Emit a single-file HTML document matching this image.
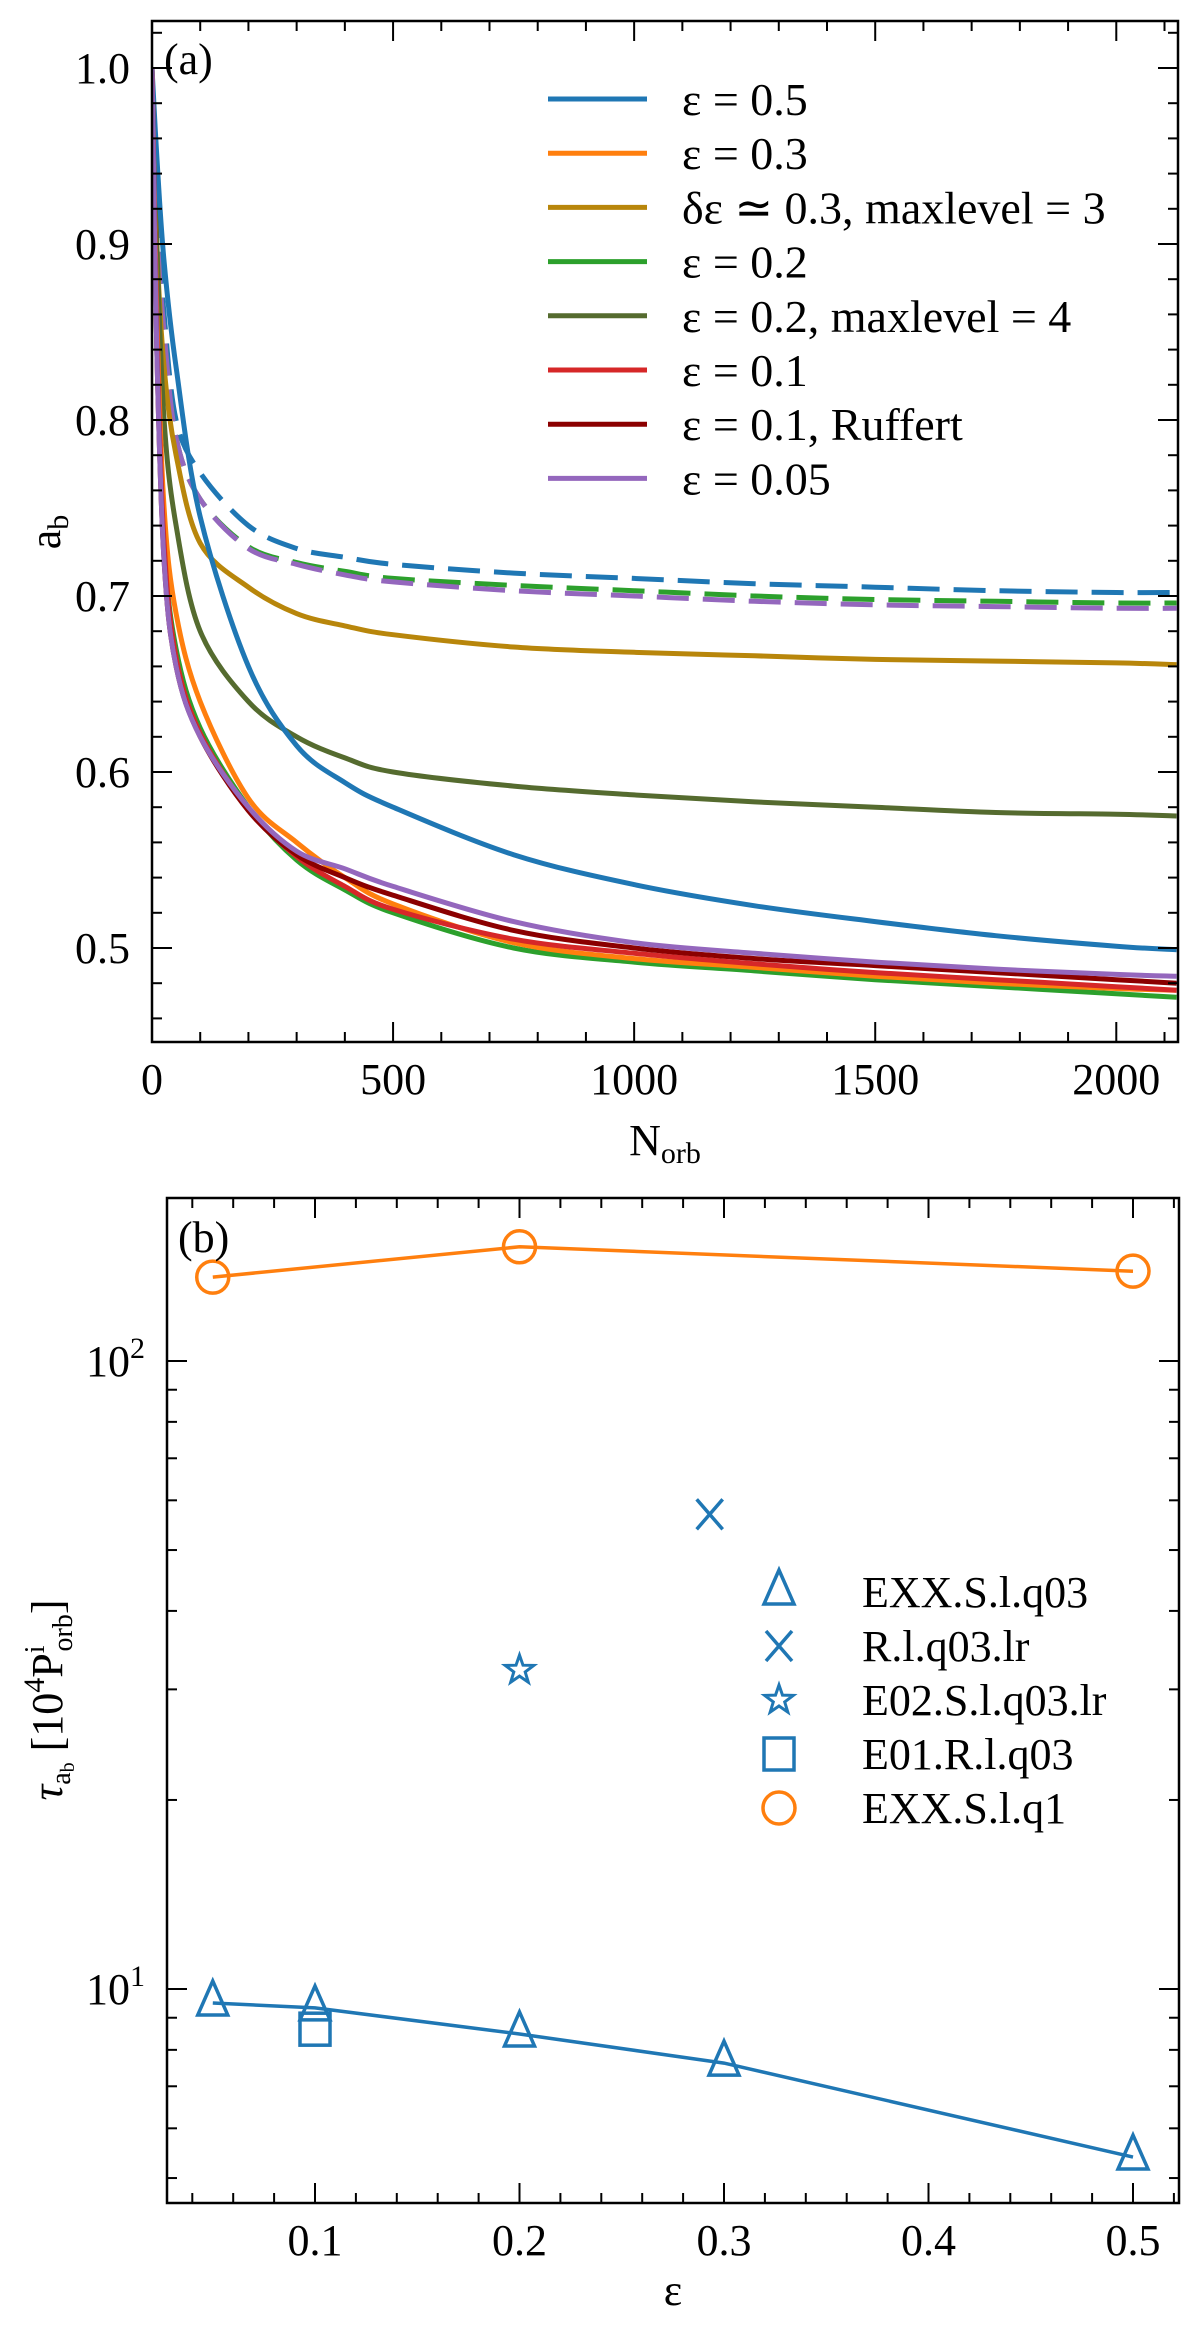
<!DOCTYPE html>
<html><head><meta charset="utf-8"><style>
html,body{margin:0;padding:0;background:#fff}
svg{display:block}
text{font-family:"Liberation Serif",serif;fill:#000}
</style></head><body>
<svg id="fig" width="1200" height="2332" viewBox="0 0 1200 2332" xmlns="http://www.w3.org/2000/svg">
<g id="pa"></g>
<g id="pb"></g>
</svg>
<script>
// ---------- Panel (a) data ----------
const aN = [0, 10, 25, 50, 100, 200, 300, 400, 500, 750, 1000, 1250, 1500, 1750, 2000, 2125];
const aEps05 = [1.0, 0.95, 0.89, 0.83, 0.745, 0.66, 0.615, 0.594, 0.58, 0.553, 0.536, 0.524, 0.515, 0.507, 0.501, 0.499];
const aEps03 = [1.0, 0.86, 0.75, 0.69, 0.64, 0.585, 0.56, 0.54, 0.525, 0.503, 0.494, 0.489, 0.484, 0.480, 0.477, 0.476];
const aDeps03 = [1.0, 0.90, 0.83, 0.78, 0.73, 0.705, 0.69, 0.683, 0.678, 0.671, 0.668, 0.666, 0.664, 0.663, 0.662, 0.661];
const aEps02 = [1.0, 0.85, 0.73, 0.67, 0.625, 0.58, 0.55, 0.533, 0.52, 0.50, 0.492, 0.487, 0.482, 0.478, 0.474, 0.472];
const aEps02L4 = [1.0, 0.90, 0.80, 0.74, 0.68, 0.64, 0.62, 0.608, 0.60, 0.592, 0.587, 0.583, 0.58, 0.577, 0.576, 0.575];
const aEps01 = [1.0, 0.85, 0.73, 0.665, 0.622, 0.579, 0.552, 0.535, 0.522, 0.505, 0.497, 0.491, 0.486, 0.482, 0.478, 0.476];
const aEps01R = [1.0, 0.84, 0.72, 0.66, 0.62, 0.578, 0.553, 0.54, 0.53, 0.51, 0.50, 0.494, 0.49, 0.486, 0.482, 0.48];
const aEps005 = [1.0, 0.84, 0.72, 0.66, 0.62, 0.58, 0.555, 0.545, 0.535, 0.515, 0.503, 0.497, 0.492, 0.488, 0.485, 0.484];
const aDash05 = [1.0, 0.92, 0.86, 0.80, 0.77, 0.74, 0.727, 0.722, 0.718, 0.713, 0.71, 0.707, 0.705, 0.703, 0.702, 0.702];
const aDash02 = [1.0, 0.91, 0.85, 0.79, 0.755, 0.728, 0.719, 0.714, 0.71, 0.706, 0.703, 0.700, 0.698, 0.697, 0.696, 0.696];
const aDash005 = [1.0, 0.91, 0.85, 0.79, 0.755, 0.727, 0.718, 0.712, 0.708, 0.703, 0.700, 0.697, 0.695, 0.694, 0.693, 0.693];
const aLegend = ["ε = 0.5","ε = 0.3","δε ≃ 0.3,  maxlevel = 3","ε = 0.2","ε = 0.2,  maxlevel = 4","ε = 0.1","ε = 0.1,  Ruffert","ε = 0.05"];
const aXTicks = [0, 500, 1000, 1500, 2000];
const aYTicks = [0.5, 0.6, 0.7, 0.8, 0.9, 1.0];

// ---------- Panel (b) data ----------
const bEpsTri = [0.05, 0.1, 0.2, 0.3, 0.5];
const bTauTri = [9.5, 9.33, 8.48, 7.62, 5.4];
const bEpsCirc = [0.05, 0.2, 0.5];
const bTauCirc = [136, 152, 139];
const bEpsX = [0.293];
const bTauX = [57];
const bEpsStar = [0.2];
const bTauStar = [32.2];
const bEpsSq = [0.1];
const bTauSq = [8.63];
const bLegend = ["EXX.S.l.q03","R.l.q03.lr","E02.S.l.q03.lr","E01.R.l.q03","EXX.S.l.q1"];
const bXTicks = [0.1, 0.2, 0.3, 0.4, 0.5];

const NS = "http://www.w3.org/2000/svg";
function mk(parent, tag, attrs, txt){
  const e = document.createElementNS(NS, tag);
  for (const k in attrs) e.setAttribute(k, attrs[k]);
  if (txt !== undefined) e.textContent = txt;
  parent.appendChild(e);
  return e;
}
function linePath(xs, ys, fx, fy){ return xs.map((x,i)=>(i?'L':'M')+fx(x).toFixed(1)+' '+fy(ys[i]).toFixed(1)).join(' '); }
function smoothPath(xs, ys, fx, fy){
  const P = xs.map((x,i)=>[fx(x),fy(ys[i])]);
  let d = 'M'+P[0][0].toFixed(1)+' '+P[0][1].toFixed(1);
  for (let i=0;i<P.length-1;i++){
    const p0=P[Math.max(0,i-1)], p1=P[i], p2=P[i+1], p3=P[Math.min(P.length-1,i+2)];
    const c1=[p1[0]+(p2[0]-p0[0])/6, p1[1]+(p2[1]-p0[1])/6];
    const c2=[p2[0]-(p3[0]-p1[0])/6, p2[1]-(p3[1]-p1[1])/6];
    d += ' C'+c1.map(v=>v.toFixed(1)).join(' ')+' '+c2.map(v=>v.toFixed(1)).join(' ')+' '+p2[0].toFixed(1)+' '+p2[1].toFixed(1);
  }
  return d;
}
// ===== Panel a =====
const pa = document.getElementById('pa');
const A = {l:152, r:1178, t:21, b:1042};
const axN = n => A.l + n * (A.r - A.l) / 2128;
const ayA = v => 68 + (1.0 - v) * 1760;
const clipA = mk(pa,'clipPath',{id:'clipA'});
mk(clipA,'rect',{x:A.l,y:A.t,width:A.r-A.l,height:A.b-A.t});
const aSeries = [
 [aDash05,'#1f77b4',true,'dashed-eps-05'],
 [aDash02,'#2ca02c',true,'dashed-eps-02'],
 [aDash005,'#9467bd',true,'dashed-eps-005'],
 [aDeps03,'#b8860b',false,'line-deps-03-maxlevel-3'],
 [aEps02L4,'#556b2f',false,'line-eps-02-maxlevel-4'],
 [aEps05,'#1f77b4',false,'line-eps-05'],
 [aEps02,'#2ca02c',false,'line-eps-02'],
 [aEps03,'#ff7f0e',false,'line-eps-03'],
 [aEps01,'#d62728',false,'line-eps-01'],
 [aEps01R,'#8b0000',false,'line-eps-01-ruffert'],
 [aEps005,'#9467bd',false,'line-eps-005']
];
aSeries.forEach(s=>{
  const p = mk(pa,'path',{d:smoothPath(aN,s[0],axN,ayA),fill:'none',stroke:s[1],'stroke-width':5,'clip-path':'url(#clipA)','stroke-linejoin':'round'});
  if (s[2]) p.setAttribute('stroke-dasharray','32 14');
  
  
});
const fa = mk(pa,'rect',{x:A.l,y:A.t,width:A.r-A.l,height:A.b-A.t,fill:'none',stroke:'#000','stroke-width':2.5});


for (let n=0;n<=2100;n+=100){
  const x=axN(n), maj=(n%500===0), L=maj?20:10;
  mk(pa,'line',{x1:x,y1:A.b,x2:x,y2:A.b-L,stroke:'#000','stroke-width':2});
  mk(pa,'line',{x1:x,y1:A.t,x2:x,y2:A.t+L,stroke:'#000','stroke-width':2});
}
aXTicks.forEach(n=>{
  const t = mk(pa,'text',{x:axN(n),y:1094,'font-size':44,'text-anchor':'middle'},String(n));
  
  
});
for (let k=0;k<=29;k++){
  const v = 0.46 + k*0.02;
  if (v>1.026) break;
  const y=ayA(v), maj=(Math.round(v*100)%10===0), L=maj?20:10;
  mk(pa,'line',{x1:A.l,y1:y,x2:A.l+L,y2:y,stroke:'#000','stroke-width':2});
  mk(pa,'line',{x1:A.r,y1:y,x2:A.r-L,y2:y,stroke:'#000','stroke-width':2});
}
aYTicks.forEach(v=>{
  const t = mk(pa,'text',{x:130,y:ayA(v)+15,'font-size':44,'text-anchor':'end'},v.toFixed(1));
  
  
});
const ta = mk(pa,'text',{x:164,y:74,'font-size':44},'(a)');


const xla = mk(pa,'text',{x:665,y:1155,'font-size':44,'text-anchor':'middle'});
xla.innerHTML = 'N<tspan font-size="30" dy="8">orb</tspan>';


const yla = mk(pa,'text',{x:0,y:0,'font-size':44,'text-anchor':'middle',transform:'translate(60,532) rotate(-90)'});
yla.innerHTML = 'a<tspan font-size="30" dy="8">b</tspan>';


const legCols = ['#1f77b4','#ff7f0e','#b8860b','#2ca02c','#556b2f','#d62728','#8b0000','#9467bd'];
aLegend.forEach((lab,i)=>{
  const y = 99 + i*54.2;
  const g = mk(pa,'g',{});
  
  
  mk(g,'line',{x1:548,y1:y,x2:647,y2:y,stroke:legCols[i],'stroke-width':5});
  mk(g,'text',{x:682,y:y+16,'font-size':46},lab);
});
// ===== Panel b =====
const pb = document.getElementById('pb');
const B = {l:167, r:1179, t:1198, b:2203};
const bx = e => 315 + (e - 0.1) * 2045;
const by = v => 1989 - Math.log10(v/10) * 628;
const blue='#1f77b4', orange='#ff7f0e';
const lt = mk(pb,'path',{d:linePath(bEpsTri,bTauTri,bx,by),fill:'none',stroke:blue,'stroke-width':3.5});


const lc = mk(pb,'path',{d:linePath(bEpsCirc,bTauCirc,bx,by),fill:'none',stroke:orange,'stroke-width':3.5});


function marker(g,type,cx,cy,col){
  const sw=3.5;
  if(type==='tri'){ mk(g,'polygon',{points:`${cx},${cy-22} ${cx-15},${cy+12} ${cx+15},${cy+12}`,fill:'none',stroke:col,'stroke-width':sw}); }
  else if(type==='x'){ mk(g,'path',{d:`M${cx-13} ${cy-15}L${cx+13} ${cy+15}M${cx-13} ${cy+15}L${cx+13} ${cy-15}`,stroke:col,'stroke-width':sw,fill:'none'}); }
  else if(type==='star'){
    let pts=[];for(let k=0;k<10;k++){const r=k%2?6:15,a=-Math.PI/2+k*Math.PI/5;pts.push((cx+r*Math.cos(a)).toFixed(1)+','+(cy+r*Math.sin(a)).toFixed(1));}
    mk(g,'polygon',{points:pts.join(' '),fill:'none',stroke:col,'stroke-width':3});
  }
  else if(type==='sq'){ mk(g,'rect',{x:cx-15,y:cy-16,width:30,height:32,fill:'none',stroke:col,'stroke-width':sw}); }
  else { mk(g,'circle',{cx:cx,cy:cy,r:16,fill:'none',stroke:col,'stroke-width':sw}); }
}
const bSets = [[bEpsTri,bTauTri,'tri',blue,'marker-triangle'],[bEpsX,bTauX,'x',blue,'marker-x'],[bEpsStar,bTauStar,'star',blue,'marker-star'],[bEpsSq,bTauSq,'sq',blue,'marker-square'],[bEpsCirc,bTauCirc,'circ',orange,'marker-circle']];
bSets.forEach(s=>{
  s[0].forEach((e,i)=>{
    const g = mk(pb,'g',{});
    
    
    marker(g,s[2],bx(e),by(s[1][i]),s[3]);
  });
});
const fb = mk(pb,'rect',{x:B.l,y:B.t,width:B.r-B.l,height:B.b-B.t,fill:'none',stroke:'#000','stroke-width':2.5});


for (let k=2;k<=26;k++){
  const e=k*0.02, x=bx(e); if (x<B.l||x>B.r) continue;
  const maj=(k%5===0), L=maj?20:10;
  mk(pb,'line',{x1:x,y1:B.b,x2:x,y2:B.b-L,stroke:'#000','stroke-width':2});
  mk(pb,'line',{x1:x,y1:B.t,x2:x,y2:B.t+L,stroke:'#000','stroke-width':2});
}
bXTicks.forEach(e=>{
  const t = mk(pb,'text',{x:bx(e),y:2255,'font-size':44,'text-anchor':'middle'},e.toFixed(1));
  
  
});
for (const base of [1,10,100]){
  for (let m=1;m<=9;m++){
    const v=base*m, y=by(v); if (y<B.t||y>B.b) continue;
    const L=(m===1)?20:10;
    mk(pb,'line',{x1:B.l,y1:y,x2:B.l+L,y2:y,stroke:'#000','stroke-width':2});
    mk(pb,'line',{x1:B.r,y1:y,x2:B.r-L,y2:y,stroke:'#000','stroke-width':2});
  }
}
[[10,'1'],[100,'2']].forEach(d=>{
  const t = mk(pb,'text',{x:145,y:by(d[0])+15,'font-size':44,'text-anchor':'end'});
  t.innerHTML = '10<tspan font-size="30" dy="-18">'+d[1]+'</tspan>';
  
  
});
const tb = mk(pb,'text',{x:178,y:1252,'font-size':44},'(b)');


const xlb = mk(pb,'text',{x:673,y:2305,'font-size':44,'text-anchor':'middle'},'ε');


const ylb = mk(pb,'text',{x:0,y:0,'font-size':44,'text-anchor':'middle',transform:'translate(62,1700) rotate(-90)'});
ylb.innerHTML = '<tspan font-style="italic">τ</tspan><tspan font-size="28" dy="8">a</tspan><tspan font-size="20" dy="4">b</tspan><tspan dy="-12"> [10</tspan><tspan font-size="30" dy="-18">4</tspan><tspan dy="18">P</tspan><tspan font-size="28" dy="-18">i</tspan><tspan font-size="28" dx="-6" dy="28">orb</tspan><tspan dy="-10">]</tspan>';


const bTypes=['tri','x','star','sq','circ'], bCols=[blue,blue,blue,blue,orange];
bLegend.forEach((lab,i)=>{
  const y = 1592 + i*54;
  const g = mk(pb,'g',{});
  
  
  marker(g,bTypes[i],779,y,bCols[i]);
  mk(g,'text',{x:862,y:y+15,'font-size':44},lab);
});
</script>
</body></html>
